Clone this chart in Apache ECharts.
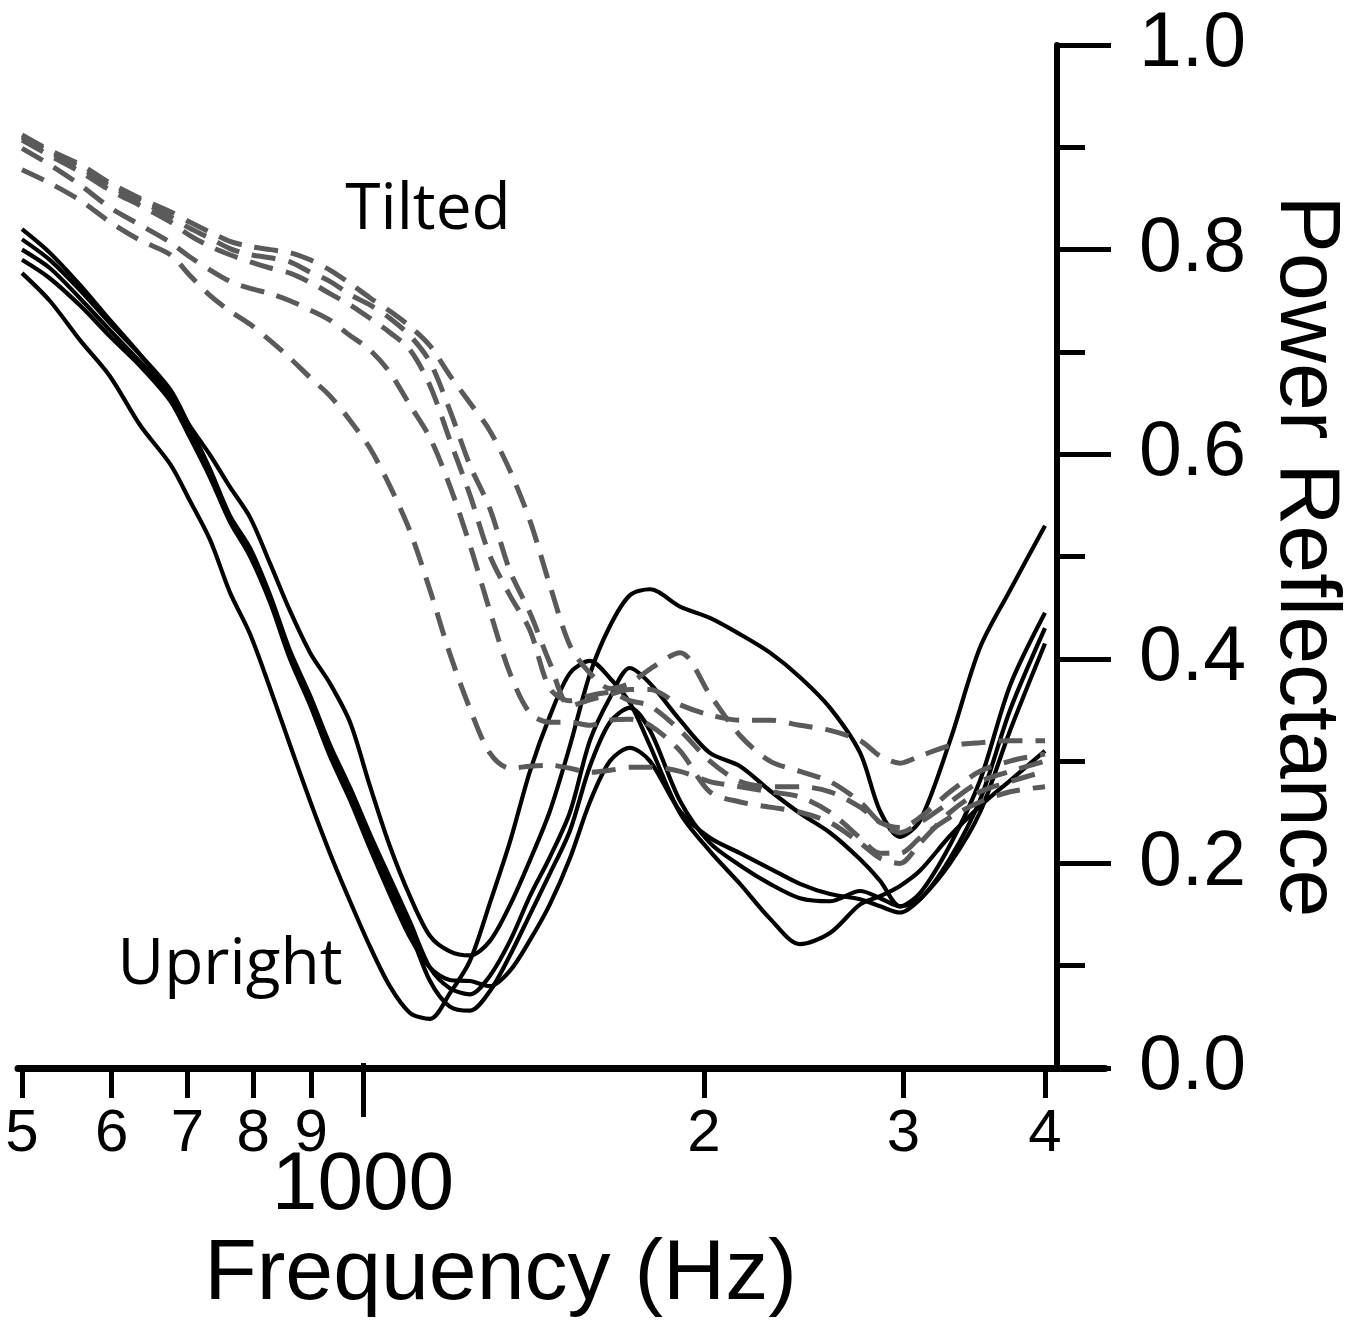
<!DOCTYPE html>
<html>
<head>
<meta charset="utf-8">
<script src="https://cdn.jsdelivr.net/npm/echarts@6/dist/echarts.min.js"></script>
<style>
  html, body { margin: 0; padding: 0; background: #fff; }
  #chart { width: 1366px; height: 1323px; }
</style>
</head>
<body>
<div id="chart"></div>
<script>
// frequency grid (Hz), shared by all curves
var freqs = [500, 529, 563, 598, 636, 676, 703, 733, 763, 795, 828, 862, 898, 935, 974, 1014,
  1056, 1100, 1146, 1193, 1243, 1294, 1348, 1404, 1462, 1523, 1586, 1652, 1720, 1792,
  1905, 2024, 2152, 2287, 2431, 2584, 2747, 2861, 2979, 3103, 3298, 3505, 3726, 4000];

// upright ear canal (solid black)
var upright1 = [0.777, 0.750, 0.711, 0.676, 0.628, 0.590, 0.555, 0.516, 0.465, 0.424, 0.371, 0.316, 0.261, 0.210, 0.163, 0.119,
  0.080, 0.054, 0.048, 0.073, 0.105, 0.161, 0.221, 0.290, 0.344, 0.386, 0.398, 0.381, 0.357, 0.315,
  0.249, 0.212, 0.180, 0.146, 0.121, 0.132, 0.160, 0.168, 0.178, 0.193, 0.227, 0.256, 0.281, 0.310];
var upright2 = [0.820, 0.797, 0.765, 0.731, 0.697, 0.658, 0.628, 0.599, 0.568, 0.538, 0.493, 0.447, 0.406, 0.376, 0.338, 0.276,
  0.217, 0.168, 0.129, 0.114, 0.110, 0.124, 0.159, 0.203, 0.251, 0.315, 0.385, 0.432, 0.462, 0.468,
  0.451, 0.440, 0.424, 0.406, 0.382, 0.352, 0.308, 0.251, 0.226, 0.242, 0.320, 0.411, 0.467, 0.530];
var upright3 = [0.810, 0.790, 0.760, 0.728, 0.697, 0.663, 0.627, 0.585, 0.540, 0.508, 0.462, 0.408, 0.364, 0.316, 0.274, 0.229,
  0.186, 0.143, 0.098, 0.078, 0.072, 0.090, 0.124, 0.168, 0.206, 0.250, 0.320, 0.362, 0.391, 0.376,
  0.340, 0.308, 0.295, 0.271, 0.249, 0.230, 0.204, 0.183, 0.158, 0.171, 0.218, 0.281, 0.374, 0.445];
var upright4 = [0.800, 0.782, 0.752, 0.721, 0.690, 0.656, 0.620, 0.579, 0.535, 0.503, 0.457, 0.403, 0.359, 0.310, 0.268, 0.222,
  0.178, 0.134, 0.085, 0.060, 0.056, 0.075, 0.110, 0.150, 0.190, 0.232, 0.295, 0.338, 0.352, 0.330,
  0.261, 0.220, 0.198, 0.180, 0.166, 0.163, 0.173, 0.166, 0.158, 0.165, 0.205, 0.262, 0.350, 0.430];
var upright5 = [0.790, 0.772, 0.745, 0.715, 0.686, 0.652, 0.617, 0.577, 0.534, 0.500, 0.455, 0.400, 0.355, 0.305, 0.262, 0.215,
  0.170, 0.128, 0.098, 0.086, 0.085, 0.080, 0.095, 0.125, 0.160, 0.205, 0.260, 0.300, 0.313, 0.300,
  0.251, 0.225, 0.210, 0.195, 0.180, 0.170, 0.165, 0.158, 0.152, 0.165, 0.200, 0.250, 0.330, 0.415];

// tilted (dashed grey)
var tilted1 = [0.878, 0.865, 0.848, 0.827, 0.809, 0.795, 0.775, 0.755, 0.740, 0.727, 0.711, 0.694, 0.675, 0.657, 0.633, 0.606,
  0.569, 0.525, 0.467, 0.405, 0.351, 0.308, 0.293, 0.295, 0.296, 0.293, 0.289, 0.291, 0.294, 0.294,
  0.290, 0.280, 0.275, 0.270, 0.265, 0.250, 0.225, 0.210, 0.210, 0.225, 0.245, 0.260, 0.270, 0.275];
var tilted2 = [0.899, 0.883, 0.863, 0.841, 0.824, 0.807, 0.793, 0.780, 0.769, 0.762, 0.757, 0.750, 0.741, 0.731, 0.716, 0.702,
  0.680, 0.648, 0.616, 0.569, 0.511, 0.447, 0.386, 0.347, 0.338, 0.338, 0.335, 0.340, 0.341, 0.335,
  0.310, 0.270, 0.260, 0.255, 0.250, 0.240, 0.220, 0.205, 0.200, 0.220, 0.250, 0.270, 0.280, 0.290];
var tilted3 = [0.907, 0.892, 0.876, 0.858, 0.843, 0.827, 0.814, 0.803, 0.795, 0.788, 0.782, 0.777, 0.768, 0.757, 0.746, 0.733,
  0.719, 0.702, 0.667, 0.614, 0.560, 0.501, 0.462, 0.428, 0.371, 0.359, 0.364, 0.367, 0.359, 0.354,
  0.330, 0.300, 0.280, 0.275, 0.275, 0.270, 0.255, 0.240, 0.235, 0.245, 0.270, 0.290, 0.300, 0.307];
var tilted4 = [0.910, 0.895, 0.880, 0.862, 0.848, 0.832, 0.821, 0.811, 0.801, 0.795, 0.792, 0.788, 0.778, 0.769, 0.756, 0.746,
  0.733, 0.716, 0.690, 0.643, 0.589, 0.547, 0.486, 0.445, 0.396, 0.354, 0.360, 0.365, 0.370, 0.370,
  0.355, 0.345, 0.340, 0.340, 0.335, 0.330, 0.320, 0.305, 0.298, 0.305, 0.315, 0.318, 0.320, 0.320];
var tilted5 = [0.912, 0.897, 0.883, 0.865, 0.850, 0.837, 0.827, 0.817, 0.808, 0.803, 0.800, 0.797, 0.790, 0.780, 0.767, 0.753,
  0.740, 0.725, 0.706, 0.677, 0.650, 0.623, 0.584, 0.535, 0.472, 0.413, 0.386, 0.371, 0.376, 0.390,
  0.406, 0.365, 0.325, 0.300, 0.290, 0.280, 0.260, 0.240, 0.230, 0.240, 0.260, 0.280, 0.290, 0.300];

// x axis ticks (log scale) and their labels
var tickFreqs = [500, 600, 700, 800, 900, 2000, 3000, 4000];
var tickLabels = ['5', '6', '7', '8', '9', '2', '3', '4'];
var decadeFreqs = [1000];
var decadeLabels = ['1000'];

var upright = [upright1, upright2, upright3, upright4, upright5];
var tilted = [tilted1, tilted2, tilted3, tilted4, tilted5];

var chart = echarts.init(document.getElementById('chart'));

// the x axis is a log axis: position values by log10(Hz)
function toPoints(vals) {
  return freqs.map(function (f, i) { return [Math.log10(f), vals[i]]; });
}
function labelOf(ticks, labels) {
  return function (v) {
    for (var i = 0; i < ticks.length; i++) {
      if (Math.abs(Math.log10(ticks[i]) - v) < 1e-6) return labels[i];
    }
    return '';
  };
}

var xMin = 2.69544, xMax = 3.65503;
var axisFont = "'Liberation Sans', Arial, sans-serif";
var narrowFont = "'Liberation Sans Narrow', 'Arial Narrow', 'Liberation Sans', sans-serif";

var series = [];
upright.forEach(function (vals, i) {
  series.push({
    name: 'Upright ' + (i + 1),
    type: 'line',
    xAxisIndex: 0, yAxisIndex: 0,
    data: toPoints(vals),
    showSymbol: false,
    smooth: 0.3,
    lineStyle: { color: '#000', width: 4.2 },
    z: 2
  });
});
tilted.forEach(function (vals, i) {
  series.push({
    name: 'Tilted ' + (i + 1),
    type: 'line',
    xAxisIndex: 0, yAxisIndex: 0,
    data: toPoints(vals),
    showSymbol: false,
    smooth: 0.3,
    lineStyle: { color: '#5a5a5a', width: 5, type: [24, 13] },
    z: 3
  });
});

var gridBox = { left: 18, right: 261, top: 45, bottom: 255 };

var option = {
  backgroundColor: '#fff',
  animation: false,
  grid: [
    Object.assign({}, gridBox),
    Object.assign({}, gridBox)
  ],
  xAxis: [
    {
      type: 'value', gridIndex: 0, min: xMin, max: xMax, position: 'bottom',
      axisLine: { show: true, onZero: false, lineStyle: { color: '#000', width: 7 } },
      axisTick: { show: true, customValues: tickFreqs.map(Math.log10), length: 30, lineStyle: { color: '#000', width: 5 } },
      axisLabel: {
        customValues: tickFreqs.map(Math.log10), formatter: labelOf(tickFreqs, tickLabels),
        margin: 36, fontSize: 60, color: '#000', fontFamily: narrowFont
      },
      splitLine: { show: false }
    },
    {
      // decade tick (1000) with its longer tick and the axis title
      type: 'value', gridIndex: 1, min: xMin, max: xMax, position: 'bottom',
      axisLine: { show: false, onZero: false },
      axisTick: { show: true, customValues: decadeFreqs.map(Math.log10), length: 54, lineStyle: { color: '#000', width: 5 } },
      axisLabel: {
        customValues: decadeFreqs.map(Math.log10), formatter: labelOf(decadeFreqs, decadeLabels),
        margin: 82, fontSize: 82, color: '#000', fontFamily: narrowFont
      },
      splitLine: { show: false },
      name: 'Frequency (Hz)',
      nameLocation: 'middle',
      nameGap: 168,
      nameTextStyle: { fontSize: 86, color: '#000', fontFamily: axisFont, padding: [0, 122, 0, 0] }
    }
  ],
  yAxis: [
    {
      type: 'value', gridIndex: 0, min: 0, max: 1, interval: 0.2, position: 'right', offset: -48,
      axisLine: { show: true, onZero: false, lineStyle: { color: '#000', width: 6 } },
      axisTick: { show: true, length: 54, lineStyle: { color: '#000', width: 5 } },
      minorTick: { show: true, splitNumber: 2, length: 28, lineStyle: { color: '#000', width: 5 } },
      axisLabel: {
        margin: 82, fontSize: 77, color: '#000', fontFamily: axisFont,
        formatter: function (v) { return v.toFixed(1); }
      },
      splitLine: { show: false },
      name: 'Power Reflectance',
      nameLocation: 'middle',
      nameGap: 205,
      nameRotate: -90,
      nameTextStyle: { fontSize: 86, color: '#000', fontFamily: axisFont }
    },
    {
      type: 'value', gridIndex: 1, min: 0, max: 1, show: false
    }
  ],
  graphic: [
    { type: 'text', x: 428, y: 211, style: { text: 'Tilted', fontSize: 64, fontFamily: "'Open Sans', sans-serif", fill: '#000', align: 'center', verticalAlign: 'middle' } },
    { type: 'text', x: 230, y: 966, style: { text: 'Upright', fontSize: 64, fontFamily: "'Open Sans', sans-serif", fill: '#000', align: 'center', verticalAlign: 'middle' } }
  ],
  series: series
};

chart.setOption(option);
</script>
</body>
</html>
